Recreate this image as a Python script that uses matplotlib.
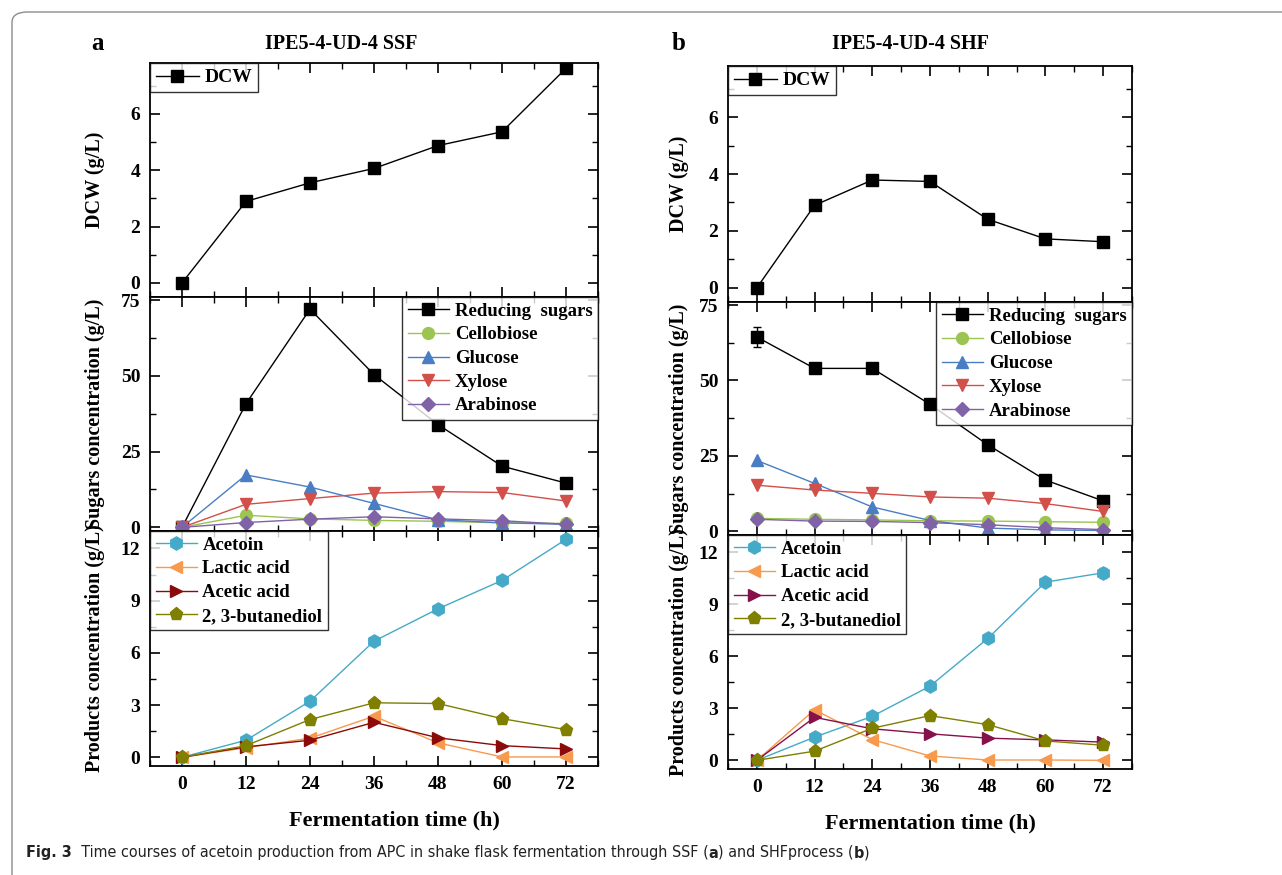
import matplotlib
matplotlib.use('Agg')
import matplotlib.pyplot as plt
from matplotlib.patches import FancyBboxPatch
from matplotlib.ticker import MultipleLocator

plt.rcParams['font.family'] = ['Liberation Serif', 'DejaVu Serif']
plt.rcParams['font.weight'] = 'bold'
plt.rcParams['axes.labelweight'] = 'bold'
plt.rcParams['axes.linewidth'] = 1.3

time_h = [0, 12, 24, 36, 48, 60, 72]

# panel a - SSF
dcw_a = [0.0, 2.89, 3.55, 4.06, 4.87, 5.36, 7.61]
red_a = [0.0, 40.8, 72.0, 50.4, 33.9, 20.2, 14.6]
cello_a = [0.0, 4.0, 2.8, 2.3, 2.0, 1.5, 1.3]
gluc_a = [0.0, 17.3, 13.3, 7.9, 2.5, 1.5, 1.0]
xyl_a = [0.0, 7.6, 9.5, 11.3, 11.8, 11.5, 8.7]
arab_a = [0.0, 1.6, 2.7, 3.5, 2.8, 2.2, 1.0]
acetoin_a = [0.0, 0.98, 3.22, 6.67, 8.53, 10.16, 12.52]
lactic_a = [0.0, 0.55, 1.1, 2.36, 0.83, 0.02, 0.02]
acetic_a = [0.0, 0.6, 0.98, 2.01, 1.12, 0.67, 0.48]
bdo_a = [0.0, 0.67, 2.17, 3.13, 3.09, 2.22, 1.59]

# panel b - SHF
dcw_b = [0.0, 2.9, 3.79, 3.74, 2.41, 1.72, 1.62]
red_b = [64.4, 54.0, 54.0, 42.1, 28.7, 17.0, 10.1]
red_b_err = [3.4, 0.8, 1.2, 0.6, 0.6, 0.5, 0.5]
cello_b = [4.3, 4.0, 3.8, 3.5, 3.4, 3.2, 3.0]
gluc_b = [23.5, 15.9, 8.1, 3.6, 1.1, 0.5, 0.3]
xyl_b = [15.3, 13.7, 12.6, 11.4, 11.0, 9.2, 6.6]
arab_b = [4.0, 3.4, 3.3, 2.9, 2.2, 1.2, 0.6]
acetoin_b = [0.0, 1.34, 2.54, 4.28, 7.03, 10.28, 10.82]
acetoin_b_err = [0.0, 0.1, 0.1, 0.15, 0.15, 0.15, 0.3]
lactic_b = [0.0, 2.92, 1.2, 0.25, 0.02, 0.02, 0.0]
acetic_b = [0.0, 2.48, 1.82, 1.53, 1.28, 1.18, 1.05]
bdo_b = [0.0, 0.53, 1.85, 2.58, 2.06, 1.12, 0.87]

FS = 14

fig = plt.figure(figsize=(12.82, 8.75), dpi=100)

# outer frame
fig.patches.append(FancyBboxPatch((12 / 1282, -0.05), 1.2, 1 - 12 / 875 + 0.05,
                                  boxstyle='round,pad=0,rounding_size=0.012',
                                  transform=fig.transFigure, fill=False,
                                  edgecolor='#8c8c8c', linewidth=1.0))


def style_ax(ax, ymaj, ymin, ylim, show_x=False):
    ax.set_xlim(-6, 78)
    ax.set_ylim(*ylim)
    ax.xaxis.set_major_locator(MultipleLocator(12))
    ax.xaxis.set_minor_locator(MultipleLocator(6))
    ax.yaxis.set_major_locator(MultipleLocator(ymaj))
    ax.yaxis.set_minor_locator(MultipleLocator(ymin))
    ax.tick_params(which='both', direction='in', top=True, right=True, labelsize=FS, pad=7)
    ax.tick_params(which='major', length=7, width=1.2)
    ax.tick_params(which='minor', length=4, width=1.0)
    if not show_x:
        ax.tick_params(labelbottom=False)
    for lab in ax.get_xticklabels() + ax.get_yticklabels():
        lab.set_fontweight('bold')


def leg(ax, loc, fs=FS - 0.5):
    lg = ax.legend(loc=loc, fontsize=fs, frameon=True, fancybox=False,
                   edgecolor='black', borderaxespad=0, handlelength=2.2,
                   labelspacing=0.35, borderpad=0.3, handletextpad=0.3)
    lg.get_frame().set_linewidth(1.0)
    return lg


def panel(x0, w, ys, hs, dcw, red, red_err, cello, gluc, xyl, arab,
          acetoin, acetoin_err, lactic, acetic, bdo, acetic_col, letter, title,
          lblx, title_x, xlab_x):
    ax1 = fig.add_axes([x0, ys[0], w, hs[0]])
    ax2 = fig.add_axes([x0, ys[1], w, hs[1]])
    ax3 = fig.add_axes([x0, ys[2], w, hs[2]])

    ms = 8.5
    ax1.plot(time_h, dcw, '-s', color='black', lw=1, ms=ms, label='DCW')
    style_ax(ax1, 2, 1, (-0.5, 7.8))
    ax1.set_ylabel('DCW (g/L)', fontsize=FS + 0.5)
    leg(ax1, 'upper left', FS)

    ax2.plot(time_h, red, '-s', color='black', lw=1, ms=ms, label='Reducing  sugars')
    if red_err is not None:
        ax2.errorbar(time_h, red, yerr=red_err, fmt='none', ecolor='black',
                     capsize=3, elinewidth=1, capthick=1)
    ax2.plot(time_h, cello, '-o', color='#9bc450', lw=1, ms=ms, label='Cellobiose')
    ax2.plot(time_h, gluc, '-^', color='#4a7ec4', lw=1, ms=ms + 0.5, label='Glucose')
    ax2.plot(time_h, xyl, '-v', color='#d24f4a', lw=1, ms=ms + 0.5, label='Xylose')
    ax2.plot(time_h, arab, '-D', color='#8062a6', lw=1, ms=ms - 1, label='Arabinose')
    style_ax(ax2, 25, 12.5, (-1.2, 76))
    ax2.set_ylabel('Sugars concentration (g/L)', fontsize=FS + 0.5)
    leg(ax2, 'upper right')

    ax3.plot(time_h, acetoin, '-h', color='#45aac8', lw=1, ms=ms + 1, label='Acetoin')
    if acetoin_err is not None:
        ax3.errorbar(time_h, acetoin, yerr=acetoin_err, fmt='none', ecolor='#45aac8',
                     capsize=3, elinewidth=1, capthick=1)
    ax3.plot(time_h, lactic, '-<', color='#f79a4e', lw=1, ms=ms + 0.5, label='Lactic acid')
    ax3.plot(time_h, acetic, '->', color=acetic_col, lw=1, ms=ms + 0.5, label='Acetic acid')
    ax3.plot(time_h, bdo, '-p', color='#7f7f00', lw=1, ms=ms + 1, label='2, 3-butanediol')
    style_ax(ax3, 3, 1.5, (-0.5, 13.0), show_x=True)
    ax3.set_ylabel('Products concentration (g/L)', fontsize=FS + 0.5)
    ax3.set_xlabel('Fermentation time (h)', fontsize=FS + 2)
    ax3.xaxis.set_label_coords(xlab_x, -0.19)
    leg(ax3, 'upper left')

    for ax in (ax1, ax2, ax3):
        ax.yaxis.set_label_coords(lblx, 0.5)

    fig.text(letter_x[letter] / 1282, 1 - 43 / 875, letter, fontsize=FS + 4,
             fontweight='bold', va='center')
    fig.text(title_x / 1282, 1 - 44 / 875, title, fontsize=FS + 0.5, fontweight='bold',
             ha='center', va='center')


letter_x = {'a': 91, 'b': 672}

panel(150 / 1282, 448 / 1282, [1 - 297 / 875, 1 - 531 / 875, 1 - 766 / 875],
      [234 / 875, 234 / 875, 235 / 875],
      dcw_a, red_a, None, cello_a, gluc_a, xyl_a, arab_a,
      acetoin_a, None, lactic_a, acetic_a, bdo_a, '#8b0a0a', 'a', 'IPE5-4-UD-4 SSF',
      -0.1, 341, 0.545)

panel(728 / 1282, 404 / 1282, [1 - 302 / 875, 1 - 535 / 875, 1 - 769 / 875],
      [236 / 875, 233 / 875, 234 / 875],
      dcw_b, red_b, red_b_err, cello_b, gluc_b, xyl_b, arab_b,
      acetoin_b, acetoin_b_err, lactic_b, acetic_b, bdo_b, '#86104a', 'b', 'IPE5-4-UD-4 SHF',
      -0.097, 910, 0.5)

# caption with bold parts, squeezed to the reference width
parts = [('Fig. 3', 'bold'),
         ('  Time courses of acetoin production from APC in shake flask fermentation through SSF (', 'normal'),
         ('a', 'bold'), (') and SHFprocess (', 'normal'), ('b', 'bold'), (')', 'normal')]
fig.canvas.draw()
r = fig.canvas.get_renderer()
cap_fs = 13
total = 0
for txt, wt in parts:
    t = fig.text(0, 0, txt, fontsize=cap_fs, fontweight=wt, family='DejaVu Sans',
                 fontstretch='condensed')
    total += t.get_window_extent(renderer=r).width
    t.remove()
cap_fs = cap_fs * 846 / total
xpos = 26
for txt, wt in parts:
    t = fig.text(xpos / 1282, 1 - 853 / 875, txt, fontsize=cap_fs, fontweight=wt,
                 family='DejaVu Sans', fontstretch='condensed', va='center', color='#222222')
    xpos += t.get_window_extent(renderer=r).width

fig.savefig('out.png', dpi=100)
